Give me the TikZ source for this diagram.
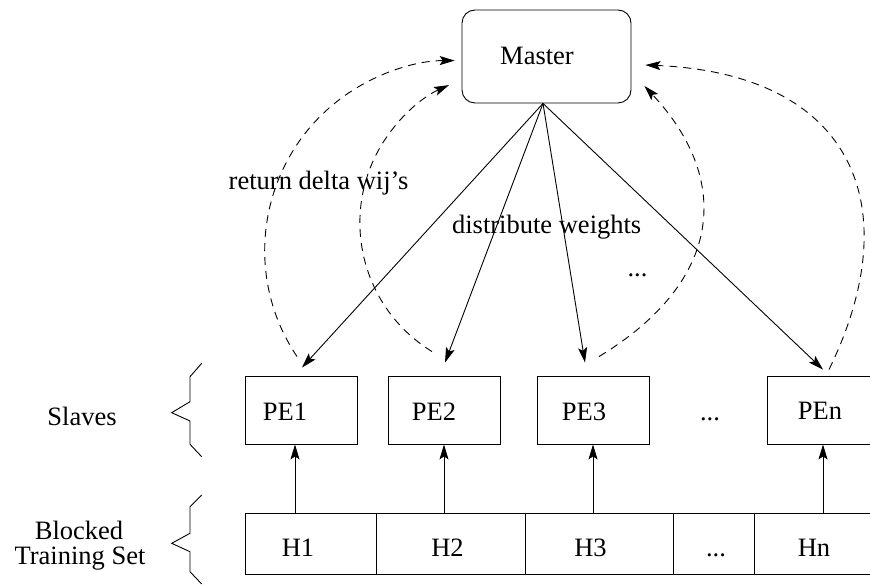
\documentclass[tikz,border=0pt]{standalone}
\usepackage{fontspec}
\setmainfont{Liberation Serif}
\usetikzlibrary{arrows.meta,calc}
\begin{document}
\begin{tikzpicture}[x=1pt,y=1pt,line width=0.9pt,
  txt/.style={font=\fontsize{26.5}{25}\selectfont, inner sep=0pt, anchor=base},
  pebox/.style={draw, inner sep=0pt, minimum width=112pt, minimum height=68pt},
  cell/.style={draw, inner sep=0pt, minimum width=#1, minimum height=61pt},
  masterbox/.style={draw, rounded corners=13pt, inner sep=0pt, minimum width=169pt, minimum height=93pt},
  arr/.style={-{Stealth[length=15pt,width=9pt,inset=3pt]}},
  darr/.style={arr, dash pattern=on 8pt off 6pt},
  brace/.style={line width=0.9pt, line join=miter}]
\useasboundingbox (0,0) rectangle (870,584);
\clip (0,0) rectangle (870,584);

% Master
\node[masterbox] (master) at (546.5,527.5) {};
\node[txt] (mastert) at (537,519) {Master};

% Slaves
\node[pebox] (pe1) at (301,174) {};
\node[pebox] (pe2) at (444,174) {};
\node[pebox] (pe3) at (593,174) {};
\node[pebox] (pen) at (823,174) {};
\node[txt] (pe1t) at (285,163) {PE1};
\node[txt] (pe2t) at (434,163) {PE2};
\node[txt] (pe3t) at (584,163) {PE3};
\node[txt] (pedots) at (710,163) {...};
\node[txt] (pent) at (820,164) {PEn};

% Blocked training set
\node[cell=131pt] (h1) at (310.5,40.5) {};
\node[cell=149pt] (h2) at (450.5,40.5) {};
\node[cell=148pt] (h3) at (599,40.5) {};
\node[cell=81pt]  (hd) at (713.5,40.5) {};
\node[cell=125pt] (hn) at (816.5,40.5) {};
\node[txt] (h1t) at (298,28) {H1};
\node[txt] (h2t) at (447.5,28) {H2};
\node[txt] (h3t) at (590.5,28) {H3};
\node[txt] (hdt) at (716,28) {...};
\node[txt] (hnt) at (814,28) {Hn};

% Left labels
\node[txt] (slaves) at (82,158) {Slaves};
\node[txt] (blocked) at (79,44.7) {Blocked};
\node[txt] (training) at (80,20) {Training Set};

% Braces
\draw[brace] (201.7,220.7) -- (190,207.3) -- (190,182.3) -- (171.7,171.3) -- (190,163) -- (190,139.7) -- (201.7,127.3);
\draw[brace] (201.7,89) -- (190,77.3) -- (190,50.7) -- (171.7,40.7) -- (190,32.3) -- (190,12.3) -- (201.7,0);

% Labels on arrows
\node[txt] (ret) at (318.5,394) {return delta wij’s};
\node[txt] (dist) at (546.7,350) {distribute weights};
\node[txt] (updots) at (637.5,307) {...};

% Training set -> slaves
\coordinate (a1) at ([xshift=-6pt]pe1.south);
\draw[arr] (a1 |- h1.north) -- (a1);
\draw[arr] (pe2.south |- h2.north) -- (pe2.south);
\draw[arr] (pe3.south |- h3.north) -- (pe3.south);
\draw[arr] (pen.south |- hn.north) -- (pen.south);

% Master -> slaves
\coordinate (hub) at ([xshift=-3.5pt]master.south);
\coordinate (t1) at ([xshift=1pt,yshift=8pt]pe1.north);
\coordinate (t2) at ([xshift=1pt,yshift=13pt]pe2.north);
\coordinate (t3) at ([xshift=-8pt,yshift=13pt]pe3.north);
\coordinate (tn) at ([yshift=6pt]pen.north);
\draw[arr] (hub) -- (t1);
\draw[arr] (hub) -- (t2);
\draw[arr] (hub) -- (t3);
\draw[arr] (hub) -- (tn);

% Slaves -> master (dashed)
\coordinate (m3) at ([xshift=13pt,yshift=-29.5pt]master.east);
\coordinate (m4) at ([xshift=14pt,yshift=-8.5pt]master.east);
\draw[darr] ([xshift=-4pt,yshift=19pt]pe1.north) arc[start angle=213.9, end angle=90, radius=190];
\draw[darr] ([xshift=-12pt,yshift=24pt]pe2.north) arc[start angle=238.5, end angle=114.2, radius=151];
\draw[darr] ([xshift=6pt,yshift=19pt]pe3.north) .. controls (722,302) and (733,403) .. (m3);
\draw[darr] ([xshift=6pt,yshift=6pt]pen.north) .. controls (908,376) and (855,510) .. (m4);
\end{tikzpicture}
\end{document}
